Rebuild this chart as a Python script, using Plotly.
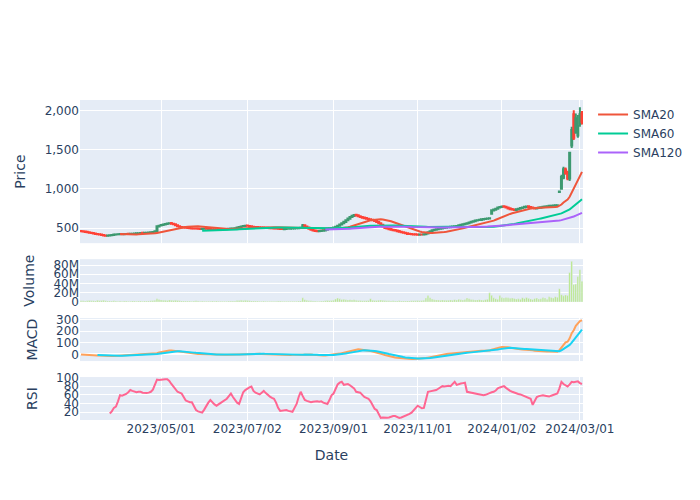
import pandas as pd
import plotly.graph_objects as go
from plotly.subplots import make_subplots

START = "2023-03-06"
END = "2024-03-04"
HOLIDAYS = ["2023-03-21", "2023-05-03", "2023-05-04", "2023-05-05", "2023-07-17",
            "2023-08-11", "2023-09-18", "2023-10-09", "2023-11-03", "2023-11-23",
            "2024-01-01", "2024-01-02", "2024-01-03", "2024-01-08", "2024-02-12",
            "2024-02-23"]

CLOSE = [
    458, 455, 450, 446, 440, 436, 430, 425, 420, 417,
    410, 404, 402, 405, 408, 412, 417, 418, 420, 422,
    420, 423, 425, 424, 426, 428, 430, 432, 434, 437,
    436, 438, 440, 442, 445, 450, 458, 521, 530, 538,
    545, 552, 558, 562, 555, 548, 535, 521, 515, 510,
    505, 502, 500, 498, 495, 493, 492, 490, 488, 490,
    491, 490, 488, 485, 483, 482, 480, 482, 484, 486,
    485, 487, 490, 492, 495, 498, 505, 512, 520, 525,
    530, 528, 522, 518, 515, 512, 510, 508, 505, 503,
    502, 500, 498, 497, 495, 493, 490, 488, 486, 487,
    489, 490, 492, 495, 497, 498, 500, 502, 535, 520,
    505, 490, 478, 468, 462, 460, 462, 465, 470, 480,
    490, 497, 500, 505, 515, 530, 545, 560, 580, 600,
    620, 640, 655, 667, 660, 650, 640, 632, 625, 618,
    612, 605, 598, 590, 575, 560, 540, 520, 500, 492,
    485, 478, 472, 467, 460, 452, 445, 438, 432, 425,
    422, 420, 418, 416, 415, 417, 417, 420, 430, 445,
    460, 471, 478, 485, 490, 495, 500, 505, 510, 512,
    515, 518, 522, 525, 535, 541, 548, 555, 562, 570,
    580, 587, 595, 600, 605, 610, 615, 618, 622, 625,
    725, 735, 745, 760, 768, 775, 770, 760, 750, 740,
    735, 730, 738, 745, 755, 762, 770, 775, 768, 760,
    752, 750, 755, 760, 765, 770, 775, 778, 782, 785,
    788, 790, 791, 966, 1150, 1250, 1200, 1130, 1460, 1750,
    1650, 1900, 1800, 1950, 1850,
]

OPEN = [
    462, 458, 455, 451, 446, 441, 436, 431, 424, 420,
    416, 411, 404, 402, 404, 408, 411, 416, 419, 421,
    422, 420, 422, 426, 423, 426, 428, 430, 431, 434,
    438, 435, 438, 441, 442, 446, 451, 462, 518, 531,
    537, 546, 551, 557, 563, 554, 547, 534, 522, 514,
    511, 506, 503, 499, 497, 494, 494, 492, 490, 487,
    489, 492, 490, 487, 485, 483, 482, 480, 481, 484,
    487, 484, 487, 490, 492, 494, 498, 504, 511, 521,
    524, 531, 527, 523, 517, 514, 513, 510, 507, 505,
    503, 503, 501, 498, 497, 495, 494, 491, 488, 485,
    486, 490, 489, 492, 494, 497, 497, 500, 503, 536,
    519, 506, 491, 479, 469, 463, 459, 461, 464, 469,
    479, 489, 498, 499, 504, 514, 528, 544, 559, 578,
    598, 619, 641, 654, 668, 661, 651, 641, 633, 627,
    619, 613, 606, 599, 591, 576, 561, 541, 521, 501,
    493, 486, 479, 473, 468, 461, 453, 446, 439, 433,
    426, 423, 421, 419, 417, 414, 418, 416, 419, 429,
    444, 459, 470, 477, 484, 491, 494, 499, 504, 509,
    511, 514, 517, 521, 524, 534, 540, 547, 554, 561,
    569, 579, 586, 594, 601, 603, 609, 616, 617, 621,
    680, 724, 734, 744, 761, 767, 776, 771, 761, 751,
    741, 736, 729, 737, 744, 754, 761, 769, 776, 769,
    761, 753, 749, 754, 759, 764, 769, 774, 777, 781,
    784, 787, 789, 960, 1000, 1140, 1245, 1205, 1130, 1550,
    1950, 1720, 1680, 1830, 1960,
]

HIGH = [
    465, 460, 457, 453, 448, 443, 438, 433, 426, 422,
    418, 413, 407, 407, 410, 414, 419, 420, 422, 425,
    424, 425, 427, 428, 428, 430, 432, 434, 436, 439,
    440, 440, 442, 444, 447, 453, 461, 525, 534, 542,
    549, 556, 561, 567, 566, 558, 550, 537, 525, 517,
    514, 508, 505, 501, 499, 497, 496, 494, 492, 492,
    493, 494, 492, 489, 487, 486, 485, 485, 487, 489,
    490, 490, 493, 495, 497, 500, 508, 515, 523, 528,
    534, 534, 530, 525, 519, 516, 515, 512, 509, 507,
    506, 505, 503, 500, 499, 497, 496, 493, 491, 490,
    492, 493, 494, 497, 499, 501, 503, 505, 552, 540,
    522, 508, 494, 481, 471, 466, 464, 467, 472, 483,
    493, 500, 503, 508, 518, 534, 549, 564, 584, 604,
    625, 645, 660, 672, 671, 664, 654, 644, 636, 630,
    622, 616, 609, 602, 594, 579, 564, 544, 524, 504,
    496, 489, 482, 476, 471, 464, 456, 449, 442, 436,
    429, 426, 424, 422, 420, 420, 421, 423, 433, 449,
    464, 475, 482, 489, 494, 498, 503, 508, 513, 515,
    518, 521, 525, 528, 539, 545, 552, 559, 566, 574,
    584, 591, 599, 604, 609, 614, 619, 622, 626, 629,
    735, 742, 752, 768, 775, 782, 780, 774, 764, 754,
    744, 739, 742, 749, 759, 766, 774, 779, 779, 771,
    764, 756, 759, 764, 769, 774, 779, 782, 786, 789,
    792, 794, 795, 975, 1180, 1280, 1270, 1230, 1470, 1790,
    2000, 1960, 1940, 2040, 1990,
]

LOW = [
    455, 452, 447, 443, 437, 433, 427, 422, 417, 413,
    406, 400, 398, 399, 401, 405, 408, 413, 416, 418,
    417, 418, 419, 421, 420, 423, 425, 427, 428, 431,
    432, 433, 435, 438, 439, 443, 448, 458, 514, 527,
    533, 542, 547, 553, 551, 544, 531, 518, 512, 507,
    502, 498, 496, 494, 492, 490, 488, 486, 485, 484,
    486, 487, 485, 482, 480, 478, 477, 477, 478, 481,
    482, 481, 484, 487, 489, 491, 495, 501, 508, 518,
    521, 524, 519, 515, 512, 509, 507, 505, 502, 500,
    499, 497, 495, 494, 492, 490, 487, 485, 483, 482,
    483, 486, 486, 489, 491, 494, 494, 497, 500, 516,
    502, 487, 475, 465, 459, 457, 455, 458, 461, 466,
    476, 486, 495, 496, 501, 511, 525, 540, 555, 574,
    594, 615, 637, 650, 656, 646, 636, 628, 621, 614,
    608, 601, 594, 586, 571, 556, 536, 516, 496, 488,
    481, 474, 468, 463, 456, 448, 441, 434, 428, 421,
    418, 416, 414, 412, 411, 411, 413, 413, 416, 426,
    441, 456, 467, 474, 481, 487, 491, 496, 501, 506,
    508, 511, 514, 518, 521, 531, 537, 544, 551, 558,
    566, 576, 583, 590, 597, 600, 606, 612, 614, 618,
    675, 720, 730, 740, 757, 763, 765, 756, 746, 736,
    731, 726, 725, 733, 740, 750, 757, 765, 764, 756,
    748, 746, 745, 750, 755, 760, 765, 770, 774, 777,
    780, 783, 785, 950, 990, 1120, 1180, 1110, 1100, 1520,
    1620, 1700, 1650, 1790, 1820,
]

VOLUME_M = [
    3.1, 2.8, 2.5, 2.9, 3.4, 2.7, 3.0, 2.6, 3.8, 2.9,
    3.5, 4.1, 2.8, 2.4, 2.6, 2.2, 2.9, 2.5, 2.1, 2.3,
    2.0, 2.4, 2.2, 1.9, 2.1, 2.6, 2.3, 2.0, 2.2, 2.5,
    2.1, 2.4, 2.3, 2.6, 2.9, 3.5, 4.2, 7.0, 5.5, 4.8,
    4.2, 3.9, 3.6, 4.5, 3.8, 3.3, 3.9, 3.5, 2.8, 2.6,
    2.5, 2.3, 2.2, 2.4, 2.1, 2.6, 2.9, 2.3, 2.0, 2.2,
    2.1, 1.9, 2.0, 1.8, 2.2, 1.9, 2.3, 2.0, 1.8, 1.9,
    2.1, 2.0, 2.3, 2.2, 2.5, 2.4, 3.2, 3.6, 4.1, 3.5,
    3.9, 3.2, 2.8, 2.6, 2.4, 2.2, 2.3, 2.1, 2.0, 2.2,
    2.1, 1.9, 2.0, 1.8, 1.9, 2.1, 2.4, 2.2, 1.9, 1.8,
    1.7, 1.9, 1.8, 2.0, 1.9, 2.1, 2.3, 2.6, 9.5, 5.2,
    3.8, 3.1, 2.9, 2.5, 2.3, 2.1, 2.0, 2.2, 2.4, 2.9,
    3.3, 3.0, 3.6, 4.0, 6.5, 8.8, 7.2, 5.5, 6.0, 5.1,
    4.8, 5.3, 4.6, 5.0, 3.9, 3.5, 3.2, 3.0, 2.8, 3.1,
    3.4, 7.5, 4.0, 3.3, 3.6, 4.1, 4.5, 3.8, 3.6, 3.0,
    2.8, 2.6, 2.9, 2.4, 2.5, 2.7, 2.3, 2.5, 2.2, 2.6,
    2.4, 2.8, 3.0, 2.7, 3.3, 3.0, 3.5, 4.2, 9.0, 14.0,
    9.5, 6.5, 5.0, 4.8, 4.3, 3.9, 4.5, 4.2, 3.8, 4.0,
    4.6, 4.1, 5.2, 4.4, 6.1, 5.0, 4.6, 5.8, 9.0, 7.2,
    5.5, 4.9, 4.4, 4.8, 5.3, 4.5, 4.2, 5.1, 6.0, 20.0,
    15.0, 9.5, 7.5, 6.0, 14.0, 9.8, 9.0, 10.0, 9.2, 8.5,
    9.0, 7.8, 6.5, 7.0, 6.2, 9.5, 8.0, 9.8, 8.1, 6.9,
    5.5, 7.8, 8.6, 6.9, 7.4, 10.0, 9.0, 6.2, 11.5, 10.2,
    8.8, 11.8, 10.5, 29.0, 16.0, 13.5, 15.5, 14.0, 64.0, 88.0,
    38.0, 39.0, 55.0, 70.0, 45.0,
]

RSI_VALUES = [None] * 14 + [
    17, 22, 30, 33, 45, 59,
    58, 60, 62, 66, 71, 69, 68, 66, 67, 67,
    65, 64, 64, 65, 67, 72, 83, 95, 94, 95,
    96, 96, 96, 92, 85, 78, 72, 67, 65, 63,
    55, 47, 45, 43, 43, 35, 25, 22, 20, 19,
    26, 35, 42, 48, 42, 38, 35, 38, 43, 46,
    48, 51, 57, 63, 55, 47, 42, 39, 55, 66,
    71, 75, 77, 79, 69, 65, 63, 61, 65, 69,
    64, 59, 56, 53, 51, 42, 30, 23, 24, 25,
    25, 23, 22, 21, 30, 39, 55, 67, 57, 48,
    46, 44, 43, 44, 45, 45, 44, 45, 42, 40,
    39, 48, 59, 63, 75, 84, 88, 90, 83, 84,
    85, 82, 79, 75, 67, 66, 65, 60, 55, 53,
    51, 45, 35, 28, 25, 15, 7, 8, 7, 7,
    8, 10, 11, 11, 9, 7, 8, 10, 12, 13,
    16, 19, 25, 30, 35, 32, 29, 30, 50, 67,
    68, 69, 70, 71, 74, 77, 80, 79, 80, 81,
    80, 84, 90, 83, 85, 86, 87, 88, 67, 66,
    65, 64, 63, 63, 62, 61, 59, 60, 63, 64,
    66, 67, 70, 75, 77, 79, 80, 76, 72, 69,
    67, 65, 63, 62, 61, 59, 57, 55, 53, 51,
    37, 48, 55, 57, 58, 59, 58, 57, 56, 58,
    60, 62, 63, 75, 90, 85, 82, 79, 84, 90,
    89, 90, 91, 87, 85,
]

# trading calendar
dates = pd.bdate_range(START, END)
dates = dates[~dates.isin(pd.to_datetime(HOLIDAYS))]
n = len(dates)
for name, arr in [("CLOSE", CLOSE), ("OPEN", OPEN), ("HIGH", HIGH), ("LOW", LOW),
                  ("VOLUME_M", VOLUME_M), ("RSI", RSI_VALUES)]:
    assert len(arr) == n, (name, len(arr), n)

close = pd.Series(CLOSE, index=dates, dtype=float)
sma20 = close.rolling(20).mean()
sma60 = close.rolling(60).mean()
sma120 = close.rolling(120).mean()
ema12 = close.ewm(span=12, adjust=False).mean()
ema26 = close.ewm(span=26, adjust=False).mean()
macd = ema12 - ema26
signal = macd.ewm(span=9, adjust=False, min_periods=9).mean()
volume = [v * 1e6 for v in VOLUME_M]

fig = make_subplots(rows=4, cols=1, shared_xaxes=True, vertical_spacing=0.05,
                    row_heights=[0.5, 0.15, 0.15, 0.15])

fig.add_trace(go.Candlestick(x=dates, open=OPEN, high=HIGH, low=LOW, close=CLOSE,
                             name="Price", showlegend=False), row=1, col=1)
fig.add_trace(go.Scatter(x=dates, y=sma20, mode="lines", name="SMA20",
                         line=dict(color="#EF553B", width=2)), row=1, col=1)
fig.add_trace(go.Scatter(x=dates, y=sma60, mode="lines", name="SMA60",
                         line=dict(color="#00CC96", width=2)), row=1, col=1)
fig.add_trace(go.Scatter(x=dates, y=sma120, mode="lines", name="SMA120",
                         line=dict(color="#AB63FA", width=2)), row=1, col=1)

fig.add_trace(go.Bar(x=dates, y=volume, name="Volume", showlegend=False,
                     marker=dict(color="#B6E880")), row=2, col=1)

fig.add_trace(go.Scatter(x=dates, y=macd, mode="lines", name="MACD", showlegend=False,
                         line=dict(color="#FFA15A", width=2)), row=3, col=1)
fig.add_trace(go.Scatter(x=dates, y=signal, mode="lines", name="Signal", showlegend=False,
                         line=dict(color="#19D3F3", width=2)), row=3, col=1)

fig.add_trace(go.Scatter(x=dates, y=RSI_VALUES, mode="lines", name="RSI", showlegend=False,
                         line=dict(color="#FF6692", width=2)), row=4, col=1)

all_days = pd.date_range(START, END)
missing = all_days.difference(dates).strftime("%Y-%m-%d").tolist()
fig.update_xaxes(rangebreaks=[dict(values=missing)], tickformat="%Y/%m/%d")
fig.update_xaxes(rangeslider_visible=False)
fig.update_xaxes(title_text="Date", row=4, col=1)

fig.update_yaxes(title_text="Price", tickformat=",", row=1, col=1)
fig.update_yaxes(title_text="Volume", row=2, col=1)
fig.update_yaxes(title_text="MACD", row=3, col=1)
fig.update_yaxes(title_text="RSI", row=4, col=1)

fig.update_layout(width=700, height=500, template="plotly",
                  font=dict(family="DejaVu Sans"))

fig.write_html("out.html")
